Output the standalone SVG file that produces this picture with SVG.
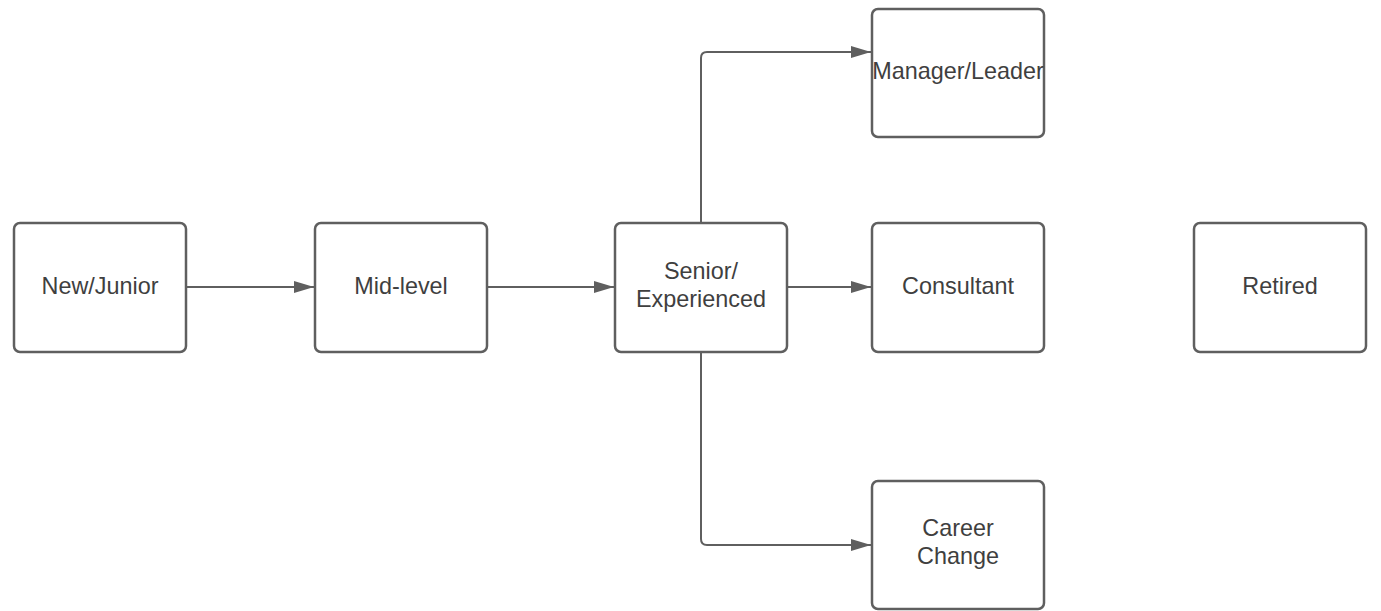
<svg xmlns="http://www.w3.org/2000/svg" width="1381" height="611" viewBox="0 0 1381 611">
<defs>
<marker id="arr" viewBox="0 0 20 12" refX="20" refY="6" markerWidth="20" markerHeight="12" markerUnits="userSpaceOnUse" orient="auto">
<path d="M0,0 L20,6 L0,12 Z" fill="#5f5f5f"/>
</marker>
<style>
.box{fill:#fff;stroke:#5f5f5f;stroke-width:2.5}
.lbl{font-family:"Liberation Sans",Arial,sans-serif;font-size:23.4px;fill:#3f3f3f;text-anchor:middle}
.con{fill:none;stroke:#5f5f5f;stroke-width:2;marker-end:url(#arr)}
</style>
</defs>
<rect width="1381" height="611" fill="#fff"/>
<g id="connectors">
<path class="con" d="M187,287 L314,287"/>
<path class="con" d="M488,287 L614,287"/>
<path class="con" d="M788,287 L871,287"/>
<path class="con" d="M701,222 L701,58 Q701,52 707,52 L871,52"/>
<path class="con" d="M701,352 L701,539 Q701,545 707,545 L871,545"/>
</g>
<g id="new-junior"><rect class="box" x="14" y="223" width="172" height="129" rx="6"/><text class="lbl" x="100" y="294">New/Junior</text></g>
<g id="mid-level"><rect class="box" x="315" y="223" width="172" height="129" rx="6"/><text class="lbl" x="401" y="294">Mid-level</text></g>
<g id="senior"><rect class="box" x="615" y="223" width="172" height="129" rx="6"/><text class="lbl" x="701" y="279">Senior/</text><text class="lbl" x="701" y="307">Experienced</text></g>
<g id="manager"><rect class="box" x="872" y="9" width="172" height="128" rx="6"/><text class="lbl" x="958" y="79">Manager/Leader</text></g>
<g id="consultant"><rect class="box" x="872" y="223" width="172" height="129" rx="6"/><text class="lbl" x="958" y="294">Consultant</text></g>
<g id="career-change"><rect class="box" x="872" y="481" width="172" height="128" rx="6"/><text class="lbl" x="958" y="536">Career</text><text class="lbl" x="958" y="564">Change</text></g>
<g id="retired"><rect class="box" x="1194" y="223" width="172" height="129" rx="6"/><text class="lbl" x="1280" y="294">Retired</text></g>
</svg>
